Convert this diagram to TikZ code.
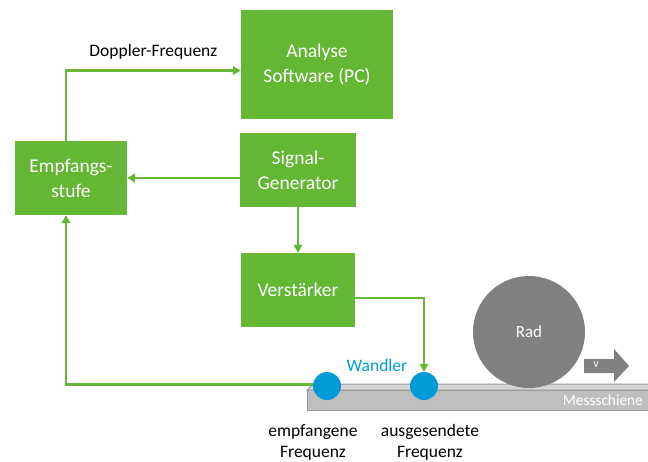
\documentclass[tikz,border=0pt]{standalone}
\usepackage{fontspec}
\setmainfont{Carlito}
\usetikzlibrary{arrows.meta}
\definecolor{grn}{HTML}{63B734}
\definecolor{wblue}{HTML}{009AD6}
\definecolor{radgray}{HTML}{808080}
\definecolor{railfront}{HTML}{BFBFBF}
\definecolor{railtop}{HTML}{D4D4D4}
\definecolor{railline}{HTML}{9A9A9A}
\tikzset{
  box/.style={fill=grn, draw=none, text=white, align=center, inner sep=0pt,
    font=\fontsize{19.5}{25}\selectfont},
  arr/.style={draw=grn, line width=2.7pt, -{Triangle[length=8pt,width=8.5pt]}},
  lbl/.style={align=center, inner sep=0pt, font=\fontsize{17.5}{21}\selectfont},
  wandler/.style={circle, fill=wblue, draw=none, minimum size=28pt, inner sep=0pt},
}
\begin{document}
\begin{tikzpicture}[x=1pt,y=-1pt]
\useasboundingbox (0,0) rectangle (648,462);
% rail
\fill[railfront, draw=railline, line width=1pt] (307,390) rectangle (650,410);
\fill[railtop, draw=railline, line width=1pt] (307,390) -- (313,384) -- (650,384) -- (650,390) -- cycle;
\node[lbl, text=white, font=\fontsize{15.3}{18}\selectfont, anchor=east] (ms) at (643,400) {Messschiene};
% boxes
\node[box, minimum width=152pt, minimum height=109pt] (ana) at (317,64.5) {Analyse\\Software (PC)};
\node[box, minimum width=116pt, minimum height=74pt] (sig) at (298,170) {Signal-\\Generator};
\node[box, minimum width=112pt, minimum height=74pt] (emp) at (71,178) {Empfangs-\\stufe};
\node[box, minimum width=114pt, minimum height=74pt] (ver) at (298,290) {Verstärker};
% wheel
\node[circle, fill=radgray, draw=none, minimum size=112pt, inner sep=0pt, text=white,
  font=\fontsize{17}{20}\selectfont] (rad) at (529,332) {Rad};
\fill[radgray] (584,359) -- (614,359) -- (614,349) -- (629,366) -- (614,382) -- (614,373) -- (584,373) -- cycle;
\node[text=white, inner sep=0pt, font=\fontsize{12}{14}\selectfont] (v) at (596,365) {v};
% transducers
\node[wandler] (emf) at (327,386) {};
\node[wandler] (aus) at (424,386) {};
\node[lbl, text=wblue] (wl) at (377,365) {Wandler};
% labels
\node[lbl] (l1) at (313,442) {empfangene\\Frequenz};
\node[lbl] (l2) at (430,442) {ausgesendete\\Frequenz};
% connectors
\draw[arr] ([xshift=-5pt]emp.north) |- ([yshift=-6pt]ana.west)
  node[pos=0.75, above=10pt, lbl, text=black] (dl) {Doppler-Frequenz};
\draw[arr] (sig.west |- emp.east) -- (emp.east);
\draw[arr] (sig.south) -- (ver.north);
\draw[arr] ([yshift=-8pt]ver.east) -| (aus.north);
\draw[arr] ([yshift=1.5pt]emf.west) -| ([xshift=-5pt]emp.south);
\end{tikzpicture}
\end{document}
